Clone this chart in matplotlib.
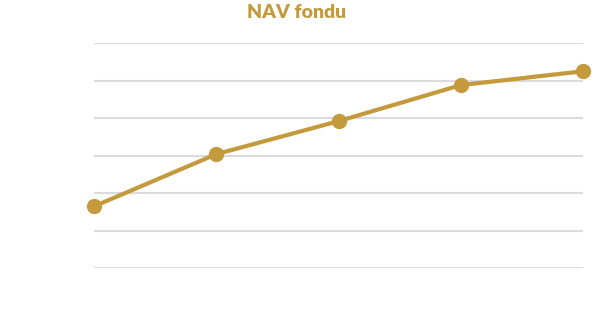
"""Recreate the 'NAV fondu' line chart."""

import matplotlib

matplotlib.use("Agg")
import matplotlib.pyplot as plt

GOLD = "#C49A3C"

categories = ["1", "2", "3", "4", "5"]
nav = [1.65, 3.04, 3.92, 4.88, 5.25]
y_ticks = [0, 1, 2, 3, 4, 5, 6]


def main() -> None:
    fig = plt.figure(figsize=(6.0, 3.29), dpi=100)
    ax = fig.add_axes([0.157, 0.185, 0.815, 0.684])
    x = list(range(len(categories)))
    ax.plot(x, nav, color=GOLD, linewidth=3, marker="o", markersize=10,
            clip_on=False, zorder=3)
    ax.set_xlim(0, len(categories) - 1)
    ax.set_ylim(y_ticks[0], y_ticks[-1])
    ax.set_yticks(y_ticks)
    ax.set_xticks(x)
    ax.set_xticklabels(categories)
    # labels exist but are drawn white, as in the source
    ax.tick_params(length=0, colors="white", labelsize=8)
    ax.grid(axis="y", color="#dcdcdc", linewidth=1.5)
    ax.set_axisbelow(True)
    for spine in ax.spines.values():
        spine.set_visible(False)
    fig.text(0.495, 0.962, "NAV fondu", ha="center", va="center",
             color=GOLD, fontsize=14, fontweight="heavy", family="Lato")
    fig.savefig("out.png", dpi=100, facecolor="white")
    plt.close(fig)


if __name__ == "__main__":
    main()
